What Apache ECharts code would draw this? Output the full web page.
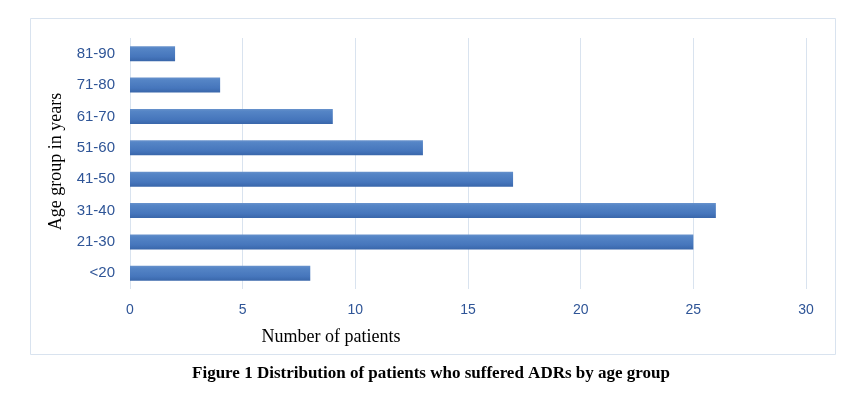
<!DOCTYPE html>
<html>
<head>
<meta charset="utf-8">
<script src="https://cdn.jsdelivr.net/npm/echarts@6/dist/echarts.min.js"></script>
<style>
html,body{margin:0;padding:0;background:#fff;}
#c{width:862px;height:393px;}
</style>
</head>
<body>
<div id="c"></div>
<script>
var categories = ['<20', '21-30', '31-40', '41-50', '51-60', '61-70', '71-80', '81-90'];
var patients = [8, 25, 26, 17, 13, 9, 4, 2];
var xTicks = { min: 0, max: 30, interval: 5 };
var xAxisName = 'Number of patients';
var yAxisName = 'Age group in years';
var caption = 'Figure 1 Distribution of patients who suffered ADRs by age group';

var chart = echarts.init(document.getElementById('c'));
chart.setOption({
  animation: false,
  backgroundColor: '#ffffff',
  graphic: [{
    type: 'rect',
    shape: { x: 30.5, y: 18.5, width: 805, height: 336 },
    style: { fill: 'none', stroke: '#d9e3ef', lineWidth: 1 },
    z: -1
  }],
  title: {
    text: caption,
    left: 'center',
    top: 360,
    textStyle: { fontFamily: 'Liberation Serif', fontWeight: 'bold', fontSize: 17, color: '#000' }
  },
  grid: { left: 130, right: 56, top: 38, bottom: 104 },
  xAxis: {
    type: 'value',
    min: xTicks.min, max: xTicks.max, interval: xTicks.interval,
    name: xAxisName,
    nameLocation: 'middle',
    nameGap: 39,
    nameTextStyle: { fontFamily: 'Liberation Serif', fontSize: 18, color: '#000', padding: [0, 274, 0, 0] },
    axisLine: { show: false },
    axisTick: { show: false },
    splitLine: { lineStyle: { color: '#d9e3ef', width: 1 } },
    axisLabel: { color: '#2f5597', fontFamily: 'Liberation Sans', fontSize: 14, margin: 14 }
  },
  yAxis: {
    type: 'category',
    data: categories,
    name: yAxisName,
    nameLocation: 'middle',
    nameGap: 65,
    nameRotate: 90,
    nameTextStyle: { fontFamily: 'Liberation Serif', fontSize: 18, color: '#000', padding: [0, 0, 0, 4] },
    axisLine: { show: false },
    axisTick: { show: false },
    axisLabel: { color: '#2f5597', fontFamily: 'Liberation Sans', fontSize: 15, margin: 15 }
  },
  series: [{
    type: 'bar',
    data: patients,
    barWidth: 15,
    itemStyle: {
      color: new echarts.graphic.LinearGradient(0, 0, 0, 1, [
        { offset: 0, color: '#6892cc' },
        { offset: 0.15, color: '#5585c6' },
        { offset: 0.7, color: '#4676bc' },
        { offset: 1, color: '#3966aa' }
      ])
    }
  }]
});
</script>
</body>
</html>
